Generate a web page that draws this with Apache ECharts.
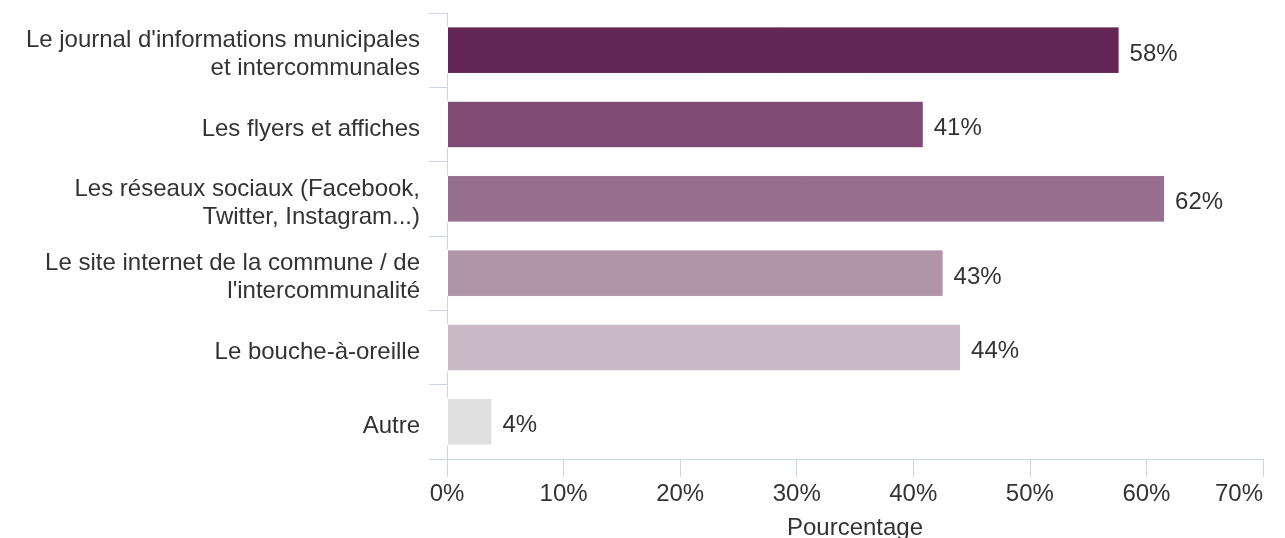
<!DOCTYPE html>
<html>
<head>
<meta charset="utf-8">
<script src="https://cdn.jsdelivr.net/npm/echarts@6/dist/echarts.min.js"></script>
<style>html,body{margin:0;padding:0;background:#fff;}#c{width:1285px;height:538px;}</style>
</head>
<body>
<div id="c"></div>
<script>
var categories = [
  "Le journal d'informations municipales\net intercommunales",
  "Les flyers et affiches",
  "Les réseaux sociaux (Facebook,\nTwitter, Instagram...)",
  "Le site internet de la commune / de\nl'intercommunalité",
  "Le bouche-à-oreille",
  "Autre"
];
var values = [57.7, 40.9, 61.6, 42.6, 44.1, 3.9];
var barColors = ["#632657", "#7f4a75", "#98708f", "#b094a9", "#c9b9c6", "#e0e0e0"];
var xTicks = [0, 10, 20, 30, 40, 50, 60, 70];
var axisName = "Pourcentage";

var axisColor = "#ccd6eb";
var textColor = "#333333";
var font = "Liberation Sans, Arial, sans-serif";

var chart = echarts.init(document.getElementById('c'), null, {renderer: 'canvas'});
chart.setOption({
  animation: false,
  grid: {left: 447, right: 22, top: 13, bottom: 79, containLabel: false, outerBoundsMode: 'none'},
  xAxis: {
    type: 'value',
    min: xTicks[0],
    max: xTicks[xTicks.length - 1],
    interval: 10,
    name: axisName,
    nameLocation: 'middle',
    nameGap: 57,
    nameTextStyle: {color: textColor, fontSize: 24, fontFamily: font},
    axisLine: {show: true, lineStyle: {color: axisColor, width: 1}},
    axisTick: {show: true, length: 18, lineStyle: {color: axisColor}},
    splitLine: {show: false},
    axisLabel: {color: textColor, fontSize: 24, fontFamily: font, margin: 23, alignMaxLabel: 'right',
      formatter: function (v) { return v + '%'; }}
  },
  yAxis: {
    type: 'category',
    data: categories,
    inverse: true,
    axisLine: {show: true, lineStyle: {color: axisColor, width: 1}},
    axisTick: {show: true, length: 18, lineStyle: {color: axisColor}},
    axisLabel: {color: textColor, fontSize: 24, fontFamily: font, margin: 27, lineHeight: 28, align: 'right',
      formatter: function (v) {
        return '{s| }\n' + v.split('\n').map(function (l) { return '{a|' + l + '}'; }).join('\n');
      },
      rich: {
        s: {fontSize: 1, lineHeight: 9},
        a: {color: textColor, fontSize: 24, fontFamily: font, lineHeight: 28, align: 'right'}
      }
    }
  },
  series: [{
    type: 'bar',
    data: values.map(function (v, i) { return {value: v, itemStyle: {color: barColors[i]}}; }),
    barCategoryGap: '36%',
    itemStyle: {borderColor: '#ffffff', borderWidth: 1},
    label: {show: true, position: 'right', distance: 10, offset: [0, 4], color: textColor, fontSize: 24, fontFamily: font,
      formatter: function (p) { return Math.round(p.value) + '%'; }}
  }]
});
</script>
</body>
</html>
